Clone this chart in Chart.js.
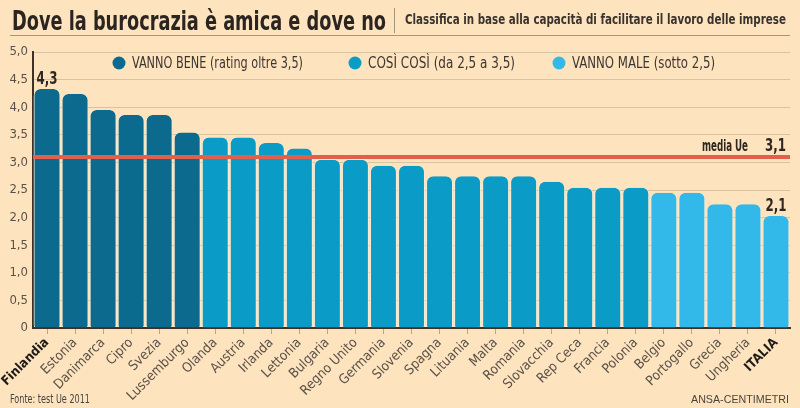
<!DOCTYPE html>
<html>
<head>
<meta charset="utf-8">
<script src="https://cdn.jsdelivr.net/npm/chart.js@4/dist/chart.umd.min.js"></script>
<style>
  html, body { margin:0; padding:0; background:#fde4bf; }
  canvas { display:block; }
</style>
</head>
<body>
<canvas id="c" width="800" height="408"></canvas>
<script>
const categories = ['Finlandia','Estonia','Danimarca','Cipro','Svezia','Lussemburgo','Olanda','Austria','Irlanda','Lettonia','Bulgaria','Regno Unito','Germania','Slovenia','Spagna','Lituania','Malta','Romania','Slovacchia','Rep Ceca','Francia','Polonia','Belgio','Portogallo','Grecia','Ungheria','ITALIA'];
const values = [4.33,4.24,3.95,3.86,3.86,3.54,3.45,3.45,3.35,3.25,3.05,3.05,2.94,2.94,2.75,2.75,2.75,2.75,2.65,2.54,2.54,2.54,2.45,2.45,2.24,2.24,2.03];
const groups = [0,0,0,0,0,0,1,1,1,1,1,1,1,1,1,1,1,1,1,1,1,1,2,2,2,2,2];
const groupColors = ['#0b6a8e','#0a9bc7','#33b8ea'];
const legendLabels = ['VANNO BENE (rating oltre 3,5)','COSÌ COSÌ (da 2,5 a 3,5)','VANNO MALE (sotto 2,5)'];
const euAverage = 3.1;
const euLabel = 'media Ue';
const euValueText = '3,1';
const highlightIndex = [0, 26];
const highlightText = ['4,3', '2,1'];
const yMin = 0, yMax = 5, yStep = 0.5;
const title = 'Dove la burocrazia è amica e dove no';
const subtitle = 'Classifica in base alla capacità di facilitare il lavoro delle imprese';
const source = 'Fonte: test Ue 2011';
const credit = 'ANSA-CENTIMETRI';

const NARROW = '"Liberation Sans Narrow", "DejaVu Sans Condensed", sans-serif';
const TXT = '#5a5048';
const GRID = '#d8c3a1';
const AXIS = '#3d3128';

const decor = {
  id: 'decor',
  afterDraw(chart) {
    const ctx = chart.ctx;
    const area = chart.chartArea;
    const y = chart.scales.y;
    const meta = chart.getDatasetMeta(0);
    ctx.save();
    // header
    ctx.fillStyle = '#2b2420';
    ctx.textBaseline = 'alphabetic';
    ctx.textAlign = 'left';
    ctx.font = 'bold 27px ' + NARROW;
    ctx.fillText(title, 12, 30, 374);
    ctx.fillStyle = '#3a332d';
    ctx.font = 'bold 14px ' + NARROW;
    ctx.fillText(subtitle, 405, 24, 381);
    ctx.strokeStyle = '#a89580';
    ctx.lineWidth = 1;
    ctx.beginPath();
    ctx.moveTo(394.5, 8); ctx.lineTo(394.5, 33);
    ctx.moveTo(10, 35.5); ctx.lineTo(790, 35.5);
    ctx.stroke();
    // legend
    const lx = [119, 355, 559];
    const lw = [171, 147, 143];
    ctx.font = '15px ' + NARROW;
    ctx.textBaseline = 'middle';
    legendLabels.forEach((t, i) => {
      ctx.fillStyle = groupColors[i];
      ctx.beginPath();
      ctx.arc(lx[i], 63, 6.5, 0, Math.PI * 2);
      ctx.fill();
      ctx.fillStyle = '#3d3530';
      ctx.fillText(t, lx[i] + 13, 64, lw[i]);
    });
    // EU average line
    const ay = y.getPixelForValue(euAverage);
    ctx.strokeStyle = '#e2604b';
    ctx.lineWidth = 4;
    ctx.beginPath();
    ctx.moveTo(area.left, ay); ctx.lineTo(area.right, ay);
    ctx.stroke();
    ctx.textBaseline = 'alphabetic';
    ctx.textAlign = 'right';
    ctx.fillStyle = '#2f2822';
    ctx.font = 'bold 18px ' + NARROW;
    ctx.fillText(euValueText, 786, ay - 6, 21);
    ctx.font = 'bold 15px ' + NARROW;
    ctx.fillText(euLabel, 748, ay - 6, 46);
    // highlighted values
    ctx.textAlign = 'center';
    ctx.font = 'bold 18px ' + NARROW;
    highlightIndex.forEach((idx, k) => {
      const bar = meta.data[idx];
      ctx.fillText(highlightText[k], bar.x, bar.y - 5, 21);
    });
    // footer
    ctx.textAlign = 'left';
    ctx.fillStyle = '#4a433d';
    ctx.font = '12px ' + NARROW;
    ctx.fillText(source, 10, 403, 80);
    ctx.textAlign = 'right';
    ctx.font = '11px "Liberation Sans", sans-serif';
    ctx.fillText(credit, 789, 403, 98);
    ctx.restore();
  }
};

new Chart(document.getElementById('c'), {
  type: 'bar',
  data: {
    labels: categories,
    datasets: [{
      data: values,
      backgroundColor: groups.map(g => groupColors[g]),
      borderColor: '#f4ecd6',
      borderWidth: { top: 0, bottom: 0, left: 1, right: 1 },
      borderSkipped: false,
      borderRadius: { topLeft: 7, topRight: 7, bottomLeft: 3, bottomRight: 3 },
      barPercentage: 0.96,
      categoryPercentage: 1.0
    }]
  },
  options: {
    responsive: false,
    animation: false,
    devicePixelRatio: 1,
    layout: { padding: { left: 0, right: 10, top: 52, bottom: 0 } },
    plugins: { legend: { display: false }, tooltip: { enabled: false }, title: { display: false } },
    scales: {
      x: {
        z: 1,
        grid: { display: true, drawOnChartArea: false, drawTicks: true, tickLength: 6, color: '#b9a58a', offset: false },
        border: { display: true, color: AXIS, width: 2 },
        ticks: {
          autoSkip: false, maxRotation: 45, minRotation: 45, padding: 1,
          color: ctx => (ctx.index === 0 || ctx.index === categories.length - 1) ? '#1e1a17' : TXT,
          font: ctx => (ctx.index === 0 || ctx.index === categories.length - 1)
            ? { family: NARROW, size: 13, weight: 'bold' }
            : { family: NARROW, size: 13.5 }
        },
        afterFit: s => { s.height = 80; }
      },
      y: {
        z: 1,
        min: yMin, max: yMax,
        grid: { color: GRID, lineWidth: 1, drawTicks: false },
        border: { display: true, color: AXIS, width: 2 },
        ticks: {
          stepSize: yStep, padding: 5, color: TXT,
          font: { family: NARROW, size: 13 },
          callback: v => v === 0 ? '0' : v.toFixed(1).replace('.', ',')
        },
        afterFit: s => { s.width = 33; }
      }
    }
  },
  plugins: [decor]
});
</script>
</body>
</html>
